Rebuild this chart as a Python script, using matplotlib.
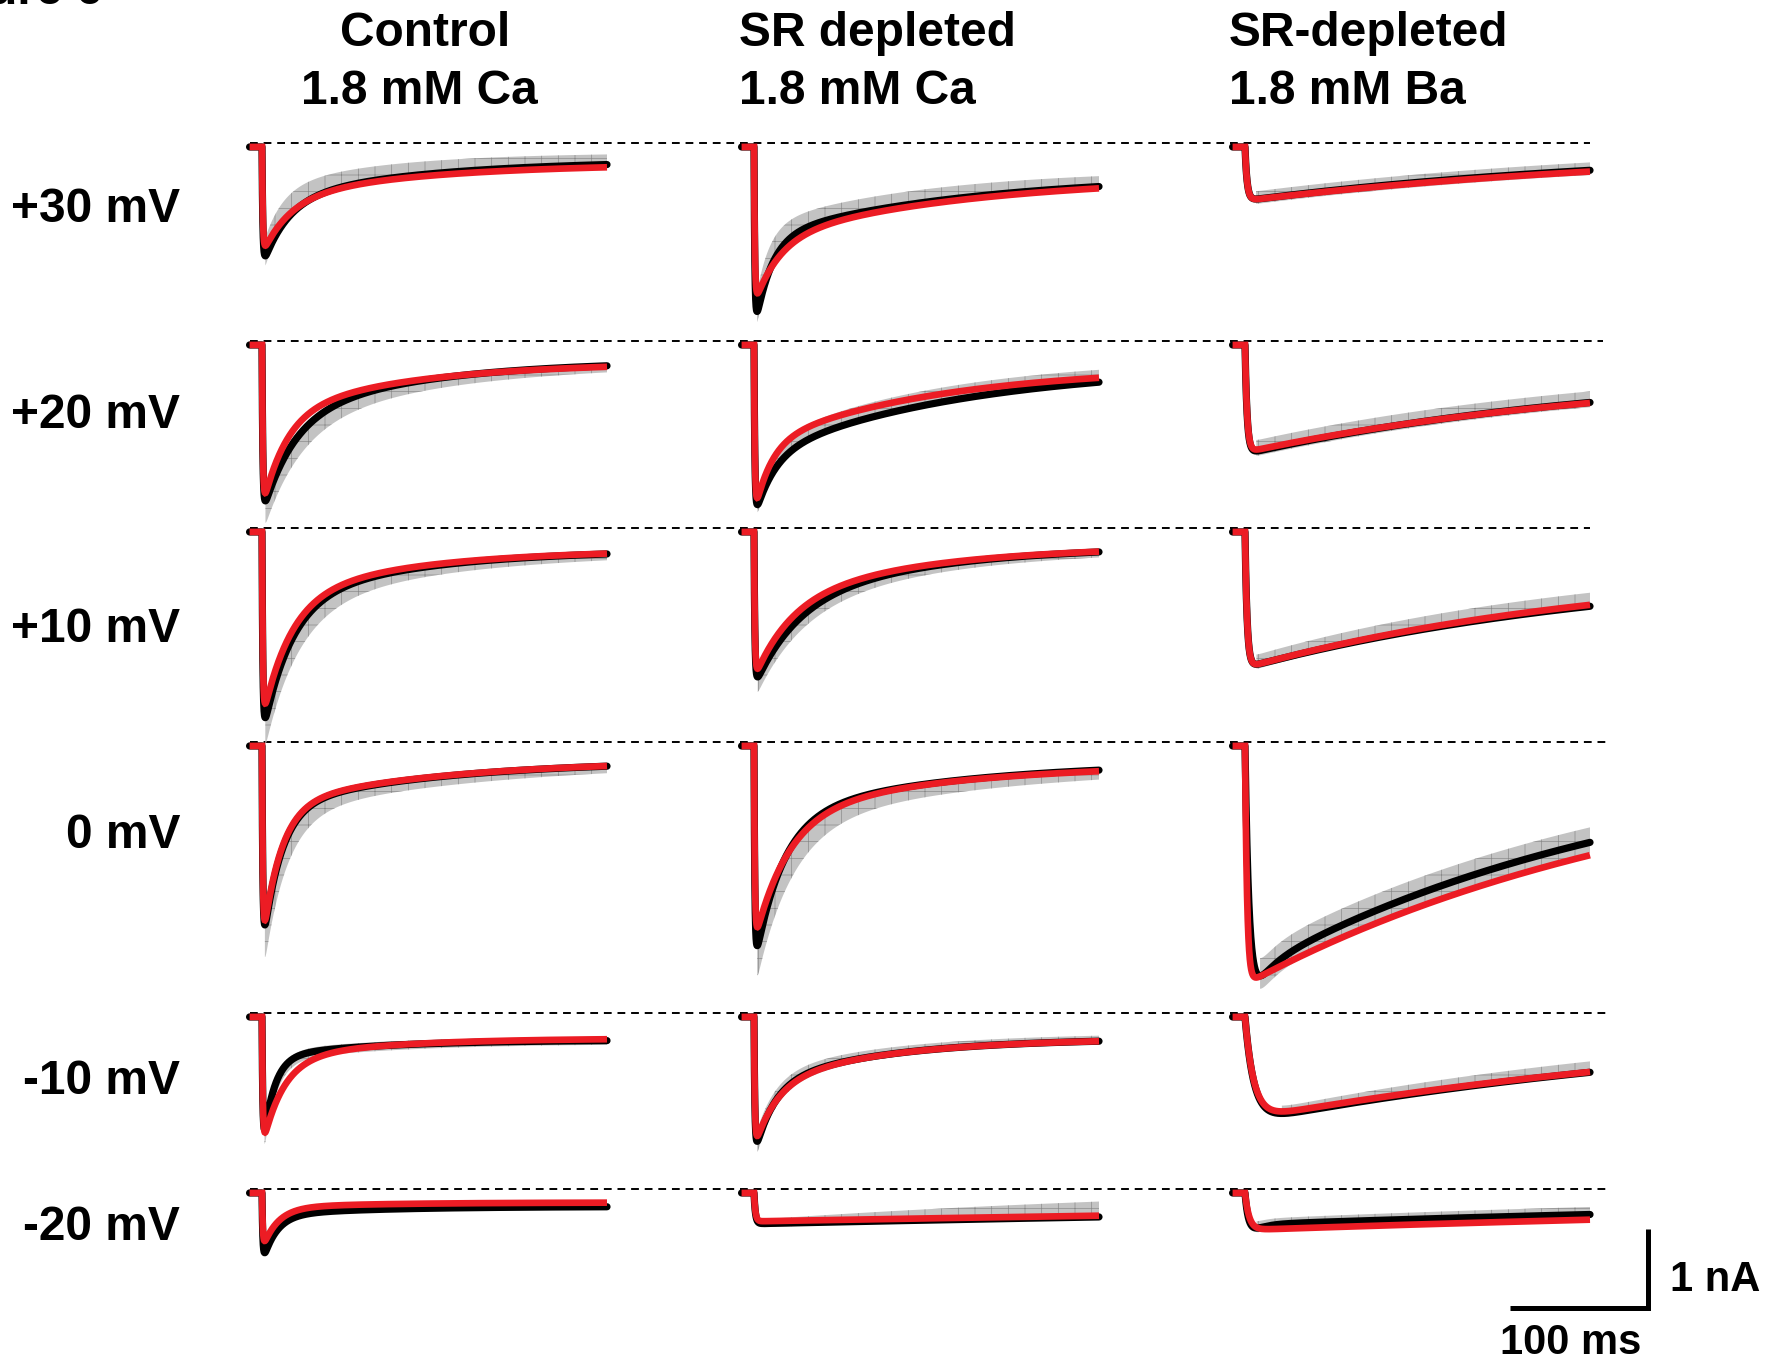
import numpy as np
import matplotlib
matplotlib.use("Agg")
import matplotlib.pyplot as plt

plt.rcParams['font.family'] = ['Liberation Sans', 'DejaVu Sans']
plt.rcParams['hatch.linewidth'] = 0.5

# ---- labels ----
col_titles = [("Control", "1.8 mM Ca"), ("SR depleted", "1.8 mM Ca"), ("SR-depleted", "1.8 mM Ba")]
voltages = ["+30 mV", "+20 mV", "+10 mV", "0 mV", "-10 mV", "-20 mV"]

# ---- fit / trace parameters, rows = voltages, cols = conditions ----
# current model: -(1-exp(-t/ta)) * (iss + (ipk-iss)*(w*exp(-t/tf) + (1-w)*exp(-t/ts)))
# units: nA and ms
red_peak = [[1.36, 2.00, 0.68], [2.08, 2.15, 1.36], [2.40, 1.86, 1.72],
            [2.55, 2.50, 3.02], [1.66, 1.66, 1.30], [0.72, 0.36, 0.47]]
red_ss = [[0.21, 0.37, 0.0], [0.22, 0.27, 0.30], [0.22, 0.17, 0.40],
          [0.18, 0.22, 0.0], [0.27, 0.27, 0.0], [0.12, 0.0, 0.0]]
red_wfast = [[0.60, 0.50, 0.0], [0.63, 0.47, 0.0], [0.70, 0.55, 0.0],
             [0.75, 0.70, 0.0], [0.80, 0.57, 0.0], [0.89, 0.0, 0.0]]
red_tfast = [[20, 18, 20], [17, 12, 20], [20, 26, 20],
             [13, 24, 20], [15, 16, 20], [11, 20, 20]]
red_tslow = [[110, 150, 320], [100, 130, 280], [100, 110, 270],
             [120, 130, 320], [80, 90, 400], [80, 1120, 760]]
red_tact = [[0.6, 0.6, 1.5], [0.6, 0.6, 1.5], [0.6, 0.6, 1.5],
            [0.6, 0.6, 1.5], [0.6, 0.6, 6.5], [0.6, 1.0, 3.0]]

black_peak = [[1.52, 2.35, 0.68], [2.15, 2.20, 1.38], [2.60, 1.96, 1.72],
              [2.62, 2.80, 3.40], [1.75, 1.76, 1.33], [0.90, 0.39, 0.62]]
black_ss = [[0.17, 0.35, 0.0], [0.20, 0.25, 0.30], [0.22, 0.17, 0.40],
            [0.18, 0.20, 0.0], [0.29, 0.27, 0.0], [0.17, 0.0, 0.0]]
black_wfast = [[0.62, 0.60, 0.0], [0.60, 0.40, 0.0], [0.70, 0.55, 0.0],
               [0.75, 0.72, 0.15], [0.85, 0.60, 0.0], [0.85, 0.0, 0.35]]
black_tfast = [[18, 12, 20], [22, 14, 20], [20, 30, 20],
               [13, 20, 12], [8, 14, 20], [10, 20, 8]]
black_tslow = [[110, 150, 300], [100, 150, 270], [100, 110, 280],
               [120, 130, 290], [80, 90, 390], [80, 1000, 640]]
black_tact = [[0.6, 0.6, 1.5], [0.6, 0.6, 1.5], [0.6, 0.6, 1.5],
              [0.6, 0.6, 3.0], [0.6, 0.6, 6.5], [0.6, 1.0, 3.0]]

# s.e.m. envelope: time-constant scaling, offset toward zero, half width
band_tscale = [[0.75, 0.8, 1.0], [1.2, 0.85, 1.0], [1.2, 1.1, 0.9],
               [1.25, 1.3, 1.0], [1.1, 1.0, 0.9], [1.0, 0.4, 0.8]]
band_off = [[0.03, 0.03, 0.02], [0.0, 0.03, 0.04], [0.0, 0.0, 0.03],
            [0.0, 0.0, 0.03], [0.0, 0.02, 0.02], [0.0, 0.0, 0.0]]
band_hmin = [[0.07, 0.05, 0.08], [0.05, 0.07, 0.10], [0.05, 0.05, 0.09],
             [0.05, 0.06, 0.16], [0.05, 0.05, 0.07], [0.03, 0.10, 0.07]]
band_hfrac = [[0.10, 0.10, 0.0], [0.12, 0.05, 0.0], [0.12, 0.08, 0.0],
              [0.15, 0.12, 0.02], [0.10, 0.08, 0.0], [0.0, -0.28, 0.0]]

holding = -0.05      # nA, before the step
pulse_ms = 250
prestep_ms = 9

# ---- layout (pixels of the 1785 x 1364 canvas) ----
W, H = 1785, 1364
PX_PER_MS = 1.38
PX_PER_NA = 79.0
col_onset_px = [262, 754, 1245]
row_base_px = [143, 341, 528, 742, 1013, 1189]
label_y_px = [209, 416, 630, 835, 1081, 1227]
dash_start_px = 250
dash_end_px = [1590, 1603, 1590, 1611, 1611, 1611]

RED = '#ec1c24'
FS = 34.5
FS_SCALE = 30


def current(t, ipk, iss, w, tf, ts, ta):
    m = 1 - np.exp(-t / ta)
    h = iss + (ipk - iss) * (w * np.exp(-t / tf) + (1 - w) * np.exp(-t / ts))
    return -m * h


fig = plt.figure(figsize=(W / 100, H / 100), dpi=100)
ax = fig.add_axes([0, 0, 1, 1])
ax.set_xlim(0, W / PX_PER_MS)
ax.set_ylim(-H / PX_PER_NA, 0)
ax.axis('off')

t = np.linspace(0, pulse_ms, 2500)
tt = np.concatenate([[-prestep_ms, 0], t])

for r in range(len(voltages)):
    y0 = -row_base_px[r] / PX_PER_NA
    ax.plot([dash_start_px / PX_PER_MS, dash_end_px[r] / PX_PER_MS], [y0, y0],
            color='black', lw=1.4, linestyle=(0, (4, 3)), zorder=1)
    for c in range(len(col_titles)):
        x0 = col_onset_px[c] / PX_PER_MS
        bargs = (black_peak[r][c], black_ss[r][c], black_wfast[r][c],
                 black_tfast[r][c], black_tslow[r][c], black_tact[r][c])
        rargs = (red_peak[r][c], red_ss[r][c], red_wfast[r][c],
                 red_tfast[r][c], red_tslow[r][c], red_tact[r][c])
        ib = np.concatenate([[0, 0], current(t, *bargs)])
        ir = np.concatenate([[0, 0], current(t, *rargs)])

        # envelope
        sc = band_tscale[r][c]
        cen = current(t, bargs[0], bargs[1], bargs[2], bargs[3] * sc, bargs[4] * sc, bargs[5])
        k = np.argmin(ib[2:])
        tb = t[k:]
        cb = cen[k:] + band_off[r][c]
        half = band_hmin[r][c] + band_hfrac[r][c] * (np.abs(cb) - np.abs(cb[-1]))
        ax.fill_between(x0 + tb, y0 + holding + cb - half, y0 + holding + cb + half,
                        facecolor='#c3c3c3', edgecolor='#8a8a8a', lw=0,
                        hatch='+', zorder=2)

        ax.plot(x0 + tt, y0 + holding + ib, color='black', lw=5.2,
                solid_capstyle='round', solid_joinstyle='round', zorder=3)
        ax.plot(x0 + tt, y0 + holding + ir, color=RED, lw=4.8,
                solid_capstyle='butt', solid_joinstyle='miter', zorder=4)

# scale bar: 100 ms, 1 nA
xb = 1510 / PX_PER_MS
yb = -1308 / PX_PER_NA
ax.plot([xb, xb + 100, xb + 100], [yb, yb, yb + 1], color='black', lw=3.6,
        solid_joinstyle='miter', solid_capstyle='butt')
fig.text(1670 / W, 1 - 1280 / H, "1 nA", ha='left', va='center', fontsize=FS_SCALE, fontweight='bold')
fig.text(1571 / W, 1 - 1343 / H, "100 ms", ha='center', va='center', fontsize=FS_SCALE, fontweight='bold')

# column headings
fig.text(425 / W, 1 - 34 / H, col_titles[0][0], ha='center', va='center', fontsize=FS, fontweight='bold')
fig.text(419 / W, 1 - 91 / H, col_titles[0][1], ha='center', va='center', fontsize=FS, fontweight='bold')
for c, xl in [(1, 739), (2, 1229)]:
    fig.text(xl / W, 1 - 34 / H, col_titles[c][0], ha='left', va='center', fontsize=FS, fontweight='bold')
    fig.text(xl / W, 1 - 91 / H, col_titles[c][1], ha='left', va='center', fontsize=FS, fontweight='bold')

# voltage labels
for r, lab in enumerate(voltages):
    fig.text(180 / W, 1 - label_y_px[r] / H, lab, ha='right', va='center', fontsize=FS, fontweight='bold')

fig.text(102 / W, 1 - 4 / H, "Figure 6", ha='right', va='baseline', fontsize=FS, fontweight='bold')

fig.savefig("out.png", dpi=100)
